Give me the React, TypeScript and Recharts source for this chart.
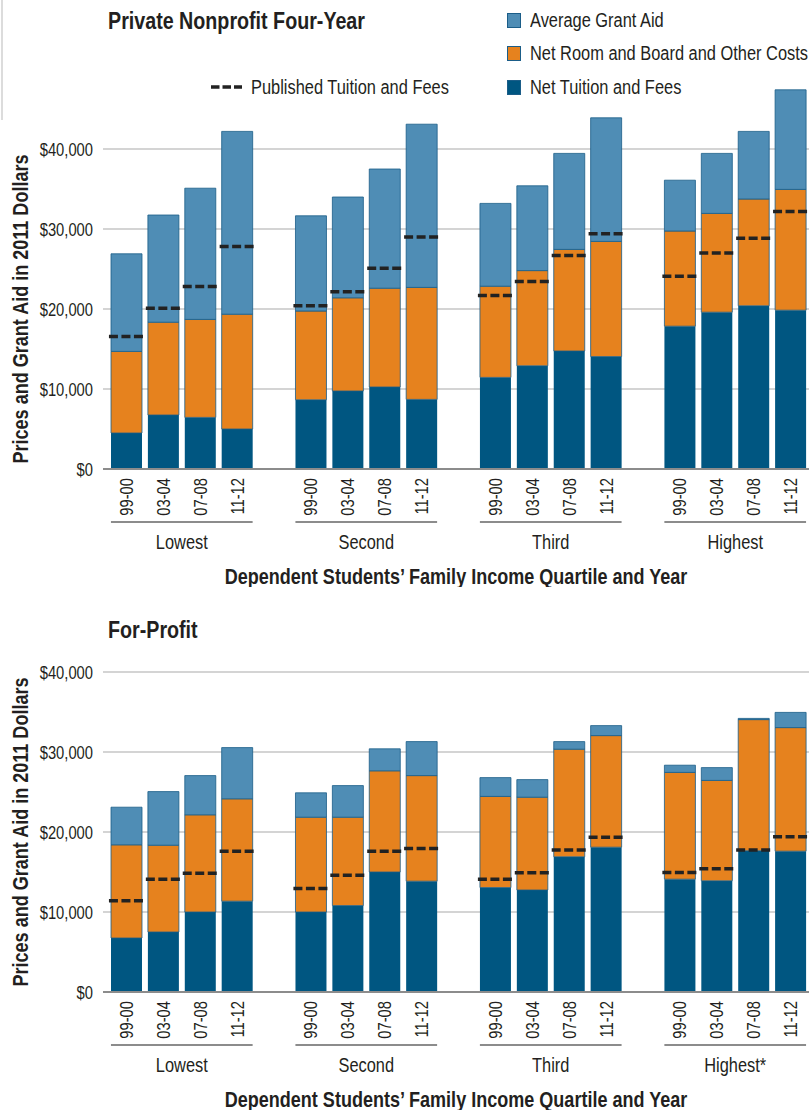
import React from 'react';
import {
  ComposedChart,
  Bar,
  Scatter,
  XAxis,
  YAxis,
  CartesianGrid,
} from 'recharts';

// Liberation Sans squeezed horizontally stands in for a condensed face
const FONT = "'Liberation Sans', Arial, sans-serif";
const SX = 0.82;
const TEXT = '#231f20';
const GRANT = '#4f8db5';
const ROOM = '#e6821e';
const TUITION = '#005681';
const EDGE = '#1b5d88';

const years = ['99-00', '03-04', '07-08', '11-12'];
const quartilesTop = ['Lowest', 'Second', 'Third', 'Highest'];
const quartilesBottom = ['Lowest', 'Second', 'Third', 'Highest*'];
const yTicks = [0, 10000, 20000, 30000, 40000];

// Private nonprofit four-year (Lowest, Second, Third, Highest x 4 years)
const npTuition = [4500, 6750, 6450, 5000, 8650, 9750, 10250, 8700, 11450, 12900, 14750, 14050, 17850, 19600, 20400, 19850];
const npRoom = [10200, 11600, 12250, 14350, 11100, 11650, 12350, 14000, 11400, 11900, 12700, 14400, 11900, 12350, 13350, 15100];
const npGrant = [12200, 13400, 16400, 22850, 11900, 12600, 14900, 20400, 10350, 10600, 12000, 15450, 6350, 7500, 8450, 12450];
const npPublished = [16550, 20100, 22800, 27800, 20400, 22150, 25100, 29000, 21700, 23450, 26700, 29400, 24100, 27000, 28850, 32200];

// For-profit
const fpTuition = [6750, 7500, 10000, 11350, 10000, 10800, 15000, 13850, 13050, 12750, 16900, 18100, 14100, 13900, 17650, 17600];
const fpRoom = [11650, 10850, 12150, 12800, 11850, 11050, 12650, 13200, 11400, 11600, 13450, 13950, 13350, 12550, 16400, 15450];
const fpGrant = [4700, 6700, 4900, 6400, 3050, 3950, 2750, 4250, 2350, 2200, 950, 1250, 900, 1600, 150, 1900];
const fpPublished = [11400, 14100, 14850, 17600, 12950, 14600, 17600, 17950, 14100, 14900, 17750, 19350, 14950, 15400, 17750, 19400];

function buildRows(quartiles: string[], tuition: number[], room: number[], grant: number[], published: number[]) {
  const rows: any[] = [];
  quartiles.forEach((q, qi) => {
    years.forEach((yr, yi) => {
      const i = qi * 4 + yi;
      rows.push({ label: yr, group: q, pos: yi, tuition: tuition[i], room: room[i], grant: grant[i], published: published[i] });
    });
    if (qi < quartiles.length - 1) rows.push({ label: '', group: '', pos: -1 });
  });
  return rows;
}

const topRows = buildRows(quartilesTop, npTuition, npRoom, npGrant, npPublished);
const bottomRows = buildRows(quartilesBottom, fpTuition, fpRoom, fpGrant, fpPublished);

const BAR = 31;

const NText = ({ x, y, angle = 0, anchor = 'start', size, weight = 400, children }: any) => (
  <g transform={`translate(${x},${y}) rotate(${angle}) scale(${SX},1)`}>
    <text x={0} y={0} textAnchor={anchor} dominantBaseline="central" fontFamily={FONT} fontSize={size} fontWeight={weight} fill={TEXT}>
      {children}
    </text>
  </g>
);

const HText = ({ size, weight = 400, children }: any) => (
  <span style={{ display: 'inline-block', transform: `scaleX(${SX})`, transformOrigin: 'left center', fontFamily: FONT, fontSize: size, fontWeight: weight, color: TEXT, whiteSpace: 'nowrap' }}>
    {children}
  </span>
);

const DashMark = (props: any) => {
  const { cx, cy } = props;
  if (!Number.isFinite(cx) || !Number.isFinite(cy)) return <g />;
  return (
    <line x1={cx - 17.5} x2={cx + 17.5} y1={cy} y2={cy} stroke="#222" strokeWidth={3.5} strokeDasharray="9 3.5" />
  );
};

const makeTick = (rows: any[]) => (props: any) => {
  const { x, y, payload } = props;
  const row = rows[payload.index];
  if (!row || row.pos < 0) return <g />;
  const band = payload.offset ? payload.offset * 2 : 36.9;
  return (
    <g>
      <NText x={x} y={y} angle={-90} anchor="end" size={18}>{row.label}</NText>
      {row.pos === 0 && (
        <g>
          <line x1={x - BAR / 2} x2={x + band * 3 + BAR / 2} y1={y + 44} y2={y + 44} stroke="#8c8c8c" strokeWidth={2} />
          <NText x={x + band * 1.5} y={y + 64} anchor="middle" size={20}>{row.group}</NText>
        </g>
      )}
    </g>
  );
};

const money = (v: number) => `$${v.toLocaleString('en-US')}`;

const YTick = (props: any) => {
  const { x, y, payload } = props;
  return <NText x={x} y={y} anchor="end" size={18}>{money(payload.value)}</NText>;
};

function Panel({ rows, domainMax, height, top }: { rows: any[]; domainMax: number; height: number; top: number }) {
  const Tick = makeTick(rows);
  // grid only at the labelled ticks, not at the top of the value range
  const gridRows = (props: any) => {
    const off = props && props.offset;
    if (!off) return [];
    return yTicks.filter((t) => t > 0).map((t) => off.top + off.height * (1 - t / domainMax));
  };
  return (
    <div style={{ position: 'absolute', left: 0, top }}>
      <ComposedChart width={809} height={height} data={rows} margin={{ top: height - 118 - 384 * (domainMax / 48000), right: 0, left: 0, bottom: 0 }}>
        <CartesianGrid vertical={false} stroke="#c6c6c6" strokeWidth={1.5} horizontalCoordinatesGenerator={gridRows} />
        <XAxis
          dataKey="label"
          interval={0}
          height={118}
          padding={{ left: 5, right: 0 }}
          tickSize={0}
          tickMargin={9}
          tick={<Tick />}
          axisLine={{ stroke: '#8c8c8c', strokeWidth: 2 }}
          label={{
            content: ({ viewBox }: any) => (
              <NText x={viewBox.x + viewBox.width / 2} y={viewBox.y + viewBox.height - 11} anchor="middle" size={22} weight={700}>
                Dependent Students’ Family Income Quartile and Year
              </NText>
            ),
          }}
        />
        <YAxis
          width={103}
          domain={[0, domainMax]}
          ticks={yTicks}
          axisLine={false}
          tickLine={false}
          tickSize={0}
          tickMargin={10}
          tick={<YTick />}
          label={{
            content: ({ viewBox }: any) => {
              const cy = viewBox.y + viewBox.height - (viewBox.height * 20000) / domainMax;
              return (
                <NText x={20} y={cy} angle={-90} anchor="middle" size={22} weight={700}>
                  Prices and Grant Aid in 2011 Dollars
                </NText>
              );
            },
          }}
        />
        <Bar dataKey="tuition" stackId="s" fill={TUITION} barSize={BAR} isAnimationActive={false} />
        <Bar dataKey="room" stackId="s" fill={ROOM} stroke={EDGE} strokeWidth={0.8} barSize={BAR} isAnimationActive={false} />
        <Bar dataKey="grant" stackId="s" fill={GRANT} stroke={EDGE} strokeWidth={0.8} barSize={BAR} isAnimationActive={false} />
        <Scatter dataKey="published" shape={<DashMark />} isAnimationActive={false} />
      </ComposedChart>
    </div>
  );
}

const LegendSwatch = ({ color }: { color: string }) => (
  <span style={{ display: 'inline-block', width: 12, height: 13, background: color, border: `1px solid ${EDGE}`, marginRight: 9, flex: 'none' }} />
);

export default function App() {
  const legendRow: React.CSSProperties = { position: 'absolute', display: 'flex', alignItems: 'center', height: 24, lineHeight: '24px' };
  return (
    <div style={{ position: 'absolute', left: 0, top: 0, width: 809, height: 1110, overflow: 'hidden', background: '#fff' }}>
      <div style={{ position: 'absolute', left: 1, top: 0, width: 2, height: 120, background: '#dcdcdc' }} />
      <Panel rows={topRows} domainMax={48000} height={587} top={0} />
      <Panel rows={bottomRows} domainMax={40000} height={510} top={600} />
      <div style={{ ...legendRow, left: 108, top: 8, height: 26 }}>
        <HText size={24} weight={700}>Private Nonprofit Four-Year</HText>
      </div>
      <div style={{ ...legendRow, left: 108, top: 617, height: 26 }}>
        <HText size={24} weight={700}>For-Profit</HText>
      </div>
      <div style={{ ...legendRow, left: 507, top: 8 }}>
        <LegendSwatch color={GRANT} />
        <HText size={20}>Average Grant Aid</HText>
      </div>
      <div style={{ ...legendRow, left: 507, top: 41 }}>
        <LegendSwatch color={ROOM} />
        <HText size={20}>Net Room and Board and Other Costs</HText>
      </div>
      <div style={{ ...legendRow, left: 507, top: 75 }}>
        <LegendSwatch color={TUITION} />
        <HText size={20}>Net Tuition and Fees</HText>
      </div>
      <div style={{ ...legendRow, left: 211, top: 75 }}>
        <svg width={31} height={6} style={{ marginRight: 9, flex: 'none' }}>
          <line x1={0} x2={31} y1={3} y2={3} stroke="#222" strokeWidth={3.5} strokeDasharray="8.5 3" />
        </svg>
        <HText size={20}>Published Tuition and Fees</HText>
      </div>
    </div>
  );
}
